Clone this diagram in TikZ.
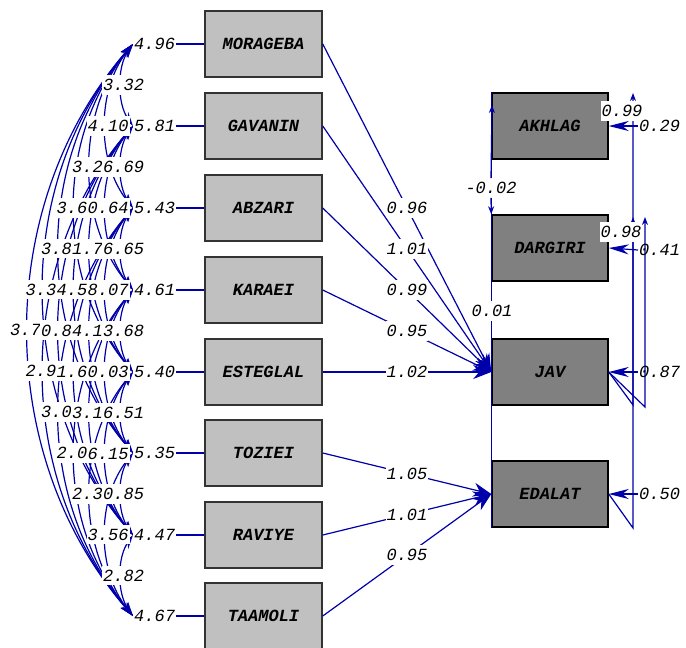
\documentclass[tikz,border=0pt]{standalone}
\usepackage{fontspec}
\usetikzlibrary{calc,arrows.meta}
\newfontfamily\lismono{Liberation Mono}
\definecolor{lisblue}{RGB}{0,0,170}
\definecolor{obsgray}{RGB}{192,192,192}
\definecolor{latgray}{RGB}{128,128,128}
\tikzset{
  obsbox/.style={draw=black!80, line width=1.5pt, fill=obsgray, minimum width=117pt,
    minimum height=66pt, inner sep=0pt, font=\lismono\bfseries\itshape\fontsize{17}{17}\selectfont},
  latbox/.style={obsbox, draw=black, fill=latgray, minimum width=116pt},
  val/.style={inner xsep=1pt, inner ysep=4pt, text=black, font=\lismono\itshape\fontsize{17}{17}\selectfont},
  valw/.style={val, fill=white},
  lisline/.style={lisblue, line width=1.2pt},
  covline/.style={lisline, {Stealth[length=14pt,width=8pt]}-{Stealth[length=14pt,width=8pt]}},
  pathline/.style={lisline, -{Stealth[length=18pt,width=14pt]}},
  errline/.style={lisline, -{Stealth[length=20pt,width=10pt]}},
  smalltip/.style={lisline, -{Stealth[length=8pt,width=6pt]}},
}
\def\covlist{0/1/3.32, 0/2/4.10, 0/3/3.26, 1/2/6.69, 0/4/3.60, 1/3/0.64,
  0/5/3.81, 1/4/1.76, 2/3/6.65, 0/6/3.34, 1/5/4.58, 2/4/8.07,
  0/7/3.70, 1/6/0.84, 2/5/4.13, 3/4/3.68, 1/7/2.91, 2/6/1.60, 3/5/0.03,
  2/7/3.03, 3/6/3.16, 4/5/6.51, 3/7/2.06, 4/6/6.15, 4/7/2.30, 5/6/0.85,
  5/7/3.56, 6/7/2.82}

\begin{document}
\begin{tikzpicture}[x=1pt,y=-1pt]
    \useasboundingbox (0,0) rectangle (686,648);

    % observed variables
    \node[obsbox] (mor) at (263.5,44) {MORAGEBA};
    \node[obsbox] (gav) at (263.5,126) {GAVANIN};
    \node[obsbox] (abz) at (263.5,208) {ABZARI};
    \node[obsbox] (kar) at (263.5,290) {KARAEI};
    \node[obsbox] (est) at (263.5,372) {ESTEGLAL};
    \node[obsbox] (toz) at (263.5,453) {TOZIEI};
    \node[obsbox] (rav) at (263.5,535) {RAVIYE};
    \node[obsbox] (taa) at (263.5,616) {TAAMOLI};

    \node[latbox] (akh) at (550,126) {AKHLAG};
    \node[latbox] (dar) at (550,248) {DARGIRI};
    \node[latbox] (jav) at (550,372) {JAV};
    \node[latbox] (eda) at (550,494) {EDALAT};

    % error variances
    \node[val, anchor=west] (e0) at (133,44) {4.96};
    \node[val, anchor=west] (e1) at (133,126) {5.81};
    \node[val, anchor=west] (e2) at (133,208) {5.43};
    \node[val, anchor=west] (e3) at (133,290) {4.61};
    \node[val, anchor=west] (e4) at (133,372) {5.40};
    \node[val, anchor=west] (e5) at (133,453) {5.35};
    \node[val, anchor=west] (e6) at (133,535) {4.47};
    \node[val, anchor=west] (e7) at (133,616) {4.67};
    \draw[lisline] (e0) -- (mor);
    \draw[lisline] (e1) -- (gav);
    \draw[lisline] (e2) -- (abz);
    \draw[lisline] (e3) -- (kar);
    \draw[lisline] (e4) -- (est);
    \draw[lisline] (e5) -- (toz);
    \draw[lisline] (e6) -- (rav);
    \draw[lisline] (e7) -- (taa);

    % covariances of the errors
    \foreach \i/\j/\v in \covlist {
        \pgfmathsetmacro\dd{\j-\i}
        \pgfmathsetmacro\cx{-16-20.67*(\dd-1)}
        \pgfmathsetmacro\cy{22.85*\dd}
        \draw[covline] (e\i.west) .. controls ($(e\i.west)+(\cx,\cy)$)
            and ($(e\j.west)+(\cx,-\cy)$) .. (e\j.west);
    }
    \foreach \i/\j/\v in \covlist {
        \pgfmathsetmacro\lx{-31-15.5*(\j-\i-1)}
        \node[valw, anchor=west] (c\i\j) at ($(e\i.west)!0.5!(e\j.west)+(\lx,0)$) {\v};
    }

    % paths
    \draw[pathline] (mor.east) -- node[valw] (p1) {0.96} (jav.west);
    \draw[pathline] (gav.east) -- node[valw] (p2) {1.01} (jav.west);
    \draw[pathline] (abz.east) -- node[valw] (p3) {0.99} (jav.west);
    \draw[pathline] (kar.east) -- node[valw] (p4) {0.95} (jav.west);
    \draw[pathline] (est.east) -- node[valw] (p5) {1.02} (jav.west);
    \draw[pathline] (toz.east) -- node[valw] (p6) {1.05} (eda.west);
    \draw[pathline] (rav.east) -- node[valw] (p7) {1.01} (eda.west);
    \draw[pathline] (taa.east) -- node[valw] (p8) {0.95} (eda.west);

    % links between the latent variables
    \draw[lisline] (akh.north west) -- (eda.south west);
    \node[valw] (k1) at (491,188) {-0.02};
    \node[valw] (k2) at (492,311) {0.01};
    \coordinate (k1up) at (492,105);
    \draw[smalltip] (k1.north) -- (k1up);
    \draw[smalltip] (k1.south) -- (dar.north west);

    % residuals on the right
    \coordinate (a1) at (633,93);
    \coordinate (a2) at (633,217);
    \coordinate (a3) at (645,217);
    \draw[smalltip] (eda.east) -- (633,528) -- (a1);
    \draw[smalltip] (jav.east) -- (633,405) -- (a2);
    \draw[smalltip] (jav.east) -- (645,407) -- (a3);
    \node[valw] (s1) at (622,111) {0.99};
    \node[valw] (s2) at (621,232) {0.98};

    \node[val, anchor=west] (r1) at (638,126) {0.29};
    \node[val, anchor=west] (r2) at (638,250) {0.41};
    \node[val, anchor=west] (r3) at (638,372) {0.87};
    \node[val, anchor=west] (r4) at (638,494) {0.50};
    \draw[errline] (r1.west) -- (akh.east);
    \draw[errline] (r2.west) -- (dar.east);
    \draw[errline] (r3.west) -- (jav.east);
    \draw[errline] (r4.west) -- (eda.east);
\end{tikzpicture}
\end{document}
